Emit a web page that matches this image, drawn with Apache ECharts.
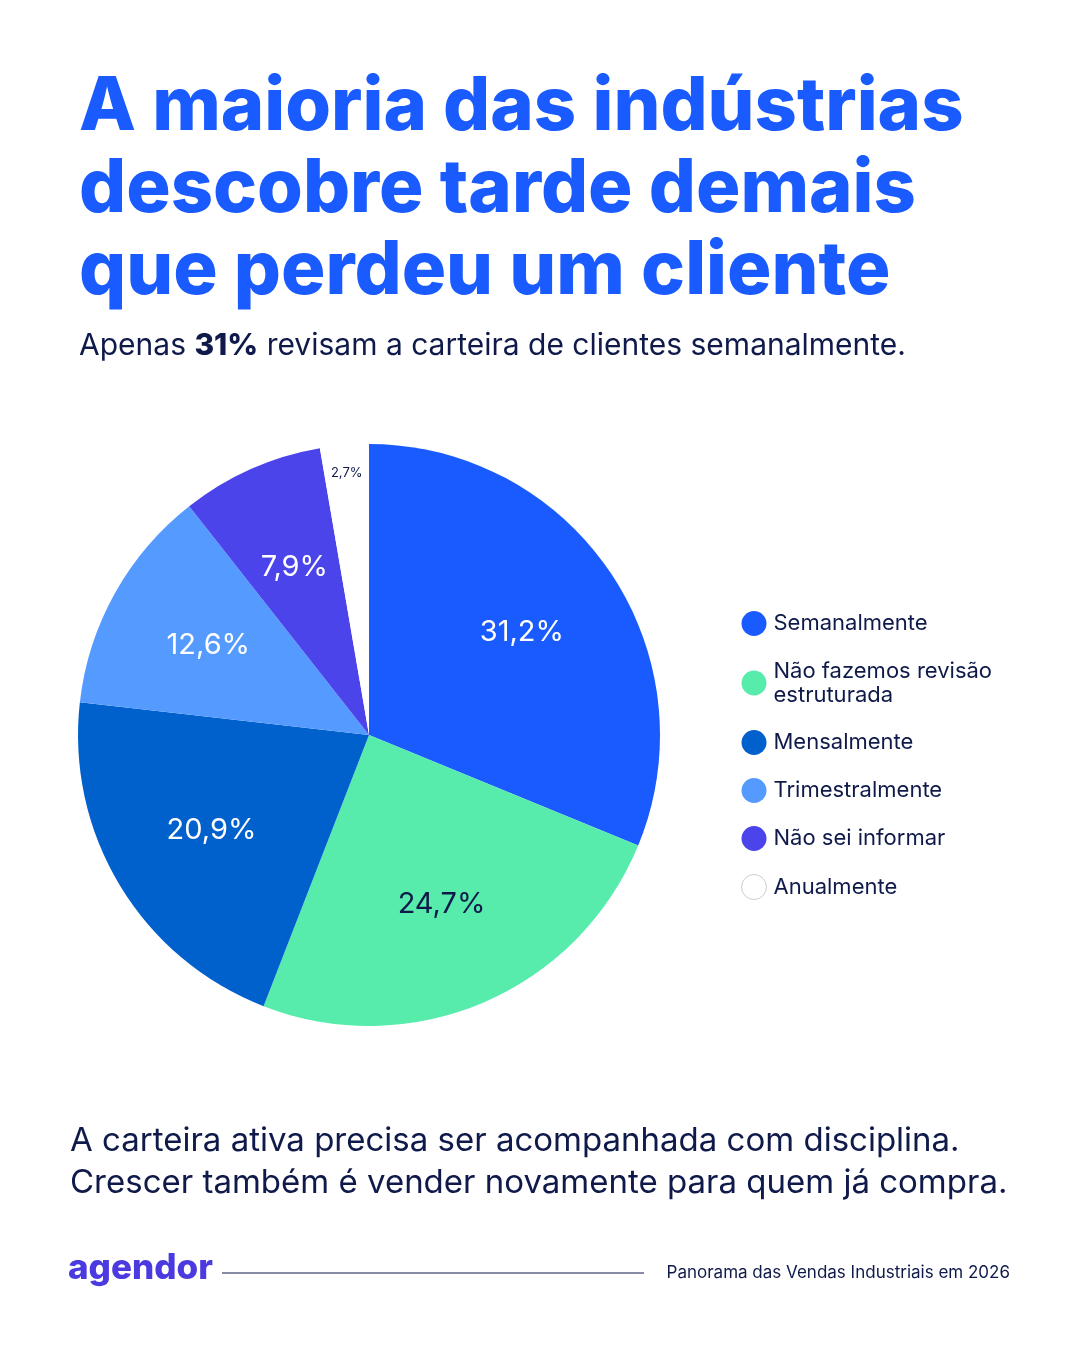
<!DOCTYPE html>
<html><head><meta charset="utf-8">
<script src="https://cdn.jsdelivr.net/npm/echarts@6/dist/echarts.min.js"></script>
<style>html,body{margin:0;padding:0;background:#fff}#c{width:1080px;height:1350px}</style>
</head><body><div id="c"></div>
<script>
var categories = ['Semanalmente', 'Não fazemos revisão\nestruturada', 'Mensalmente', 'Trimestralmente', 'Não sei informar', 'Anualmente'];
var values = [31.2, 24.7, 20.9, 12.6, 7.9, 2.7];
var colors = ['#1a5bff', '#57ecac', '#0060cc', '#559bff', '#4a44ea', '#ffffff'];
var labelColors = ['#fff', '#0f1a4a', '#fff', '#fff', '#fff', '#0f1a4a'];

var navy = '#0f1a4a';
var chart = echarts.init(document.getElementById('c'));
function fmt(p) { return String(p.value).replace('.', ',') + '%'; }

var pieData = values.map(function (v, i) {
  return { name: categories[i], value: v, itemStyle: { color: colors[i] } };
});
// transparent overlays only used to place the labels further out
var labelData = values.map(function (v, i) {
  return { name: categories[i], value: v, label: { show: i < 5, color: labelColors[i] } };
});
var smallData = values.map(function (v, i) {
  return { name: categories[i], value: v, label: { show: i === 5, color: labelColors[i] } };
});

chart.setOption({
  animation: false,
  textStyle: { fontFamily: 'Inter' },
  title: {
    text: 'A maioria das indústrias\ndescobre tarde demais\nque perdeu um cliente',
    left: 74, top: 62,
    textStyle: { color: '#1a5bff', fontSize: 74, fontWeight: 800, lineHeight: 82, fontFamily: 'Inter' },
    subtext: 'Apenas {b|31%} revisam a carteira de clientes semanalmente.',
    subtextStyle: {
      color: navy, fontSize: 30, fontFamily: 'Inter',
      rich: { b: { fontWeight: 800, fontSize: 30, color: navy, fontFamily: 'Inter' } }
    },
    itemGap: 18
  },
  legend: {
    orient: 'vertical', left: 736, top: 606,
    icon: 'circle', itemWidth: 25, itemHeight: 25, itemGap: 23,
    textStyle: { color: navy, fontSize: 22, lineHeight: 24, padding: [0, 0, 0, 2] },
    data: categories.map(function (c, i) {
      return i === 5 ? { name: c, itemStyle: { color: '#fff', borderColor: '#ccc', borderWidth: 1 } } : { name: c };
    })
  },
  series: [{
    type: 'pie', center: [369, 735], radius: [0, 291],
    startAngle: 90, clockwise: true,
    label: { show: false }, labelLine: { show: false },
    emphasis: { disabled: true },
    data: pieData
  }, {
    type: 'pie', center: [369, 735], radius: [0, 362], silent: true,
    startAngle: 90, clockwise: true,
    itemStyle: { color: 'rgba(0,0,0,0)' },
    label: { position: 'inner', fontSize: 29, fontFamily: 'Inter', formatter: fmt },
    labelLine: { show: false },
    emphasis: { disabled: true },
    data: labelData
  }, {
    type: 'pie', center: [369, 735], radius: [0, 520], silent: true,
    startAngle: 90, clockwise: true,
    itemStyle: { color: 'rgba(0,0,0,0)' },
    label: { position: 'inner', fontSize: 13, fontFamily: 'Inter', formatter: fmt },
    labelLine: { show: false },
    emphasis: { disabled: true },
    data: smallData
  }],
  graphic: [
    { type: 'text', left: 70, top: 1120, style: {
      text: 'A carteira ativa precisa ser acompanhada com disciplina.\nCrescer também é vender novamente para quem já compra.',
      fill: navy, font: '33px Inter', lineHeight: 42 } },
    { type: 'text', left: 68, top: 1251, style: { text: 'agendor', fill: '#4a3ae0', font: '800 35px Inter' } },
    { type: 'line', shape: { x1: 222, y1: 1273, x2: 644, y2: 1273 }, style: { stroke: navy, lineWidth: 1.2 } },
    { type: 'text', right: 70, top: 1264, style: { text: 'Panorama das Vendas Industriais em 2026', fill: navy, font: '17px Inter' } }
  ]
});
</script></body></html>
